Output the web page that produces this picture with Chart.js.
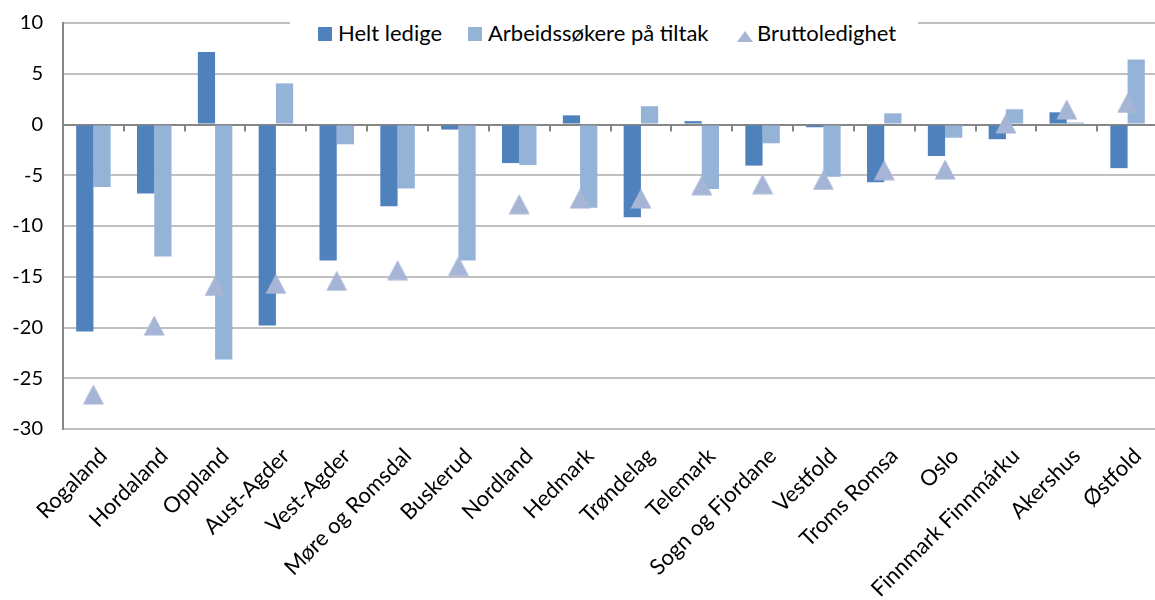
<!DOCTYPE html>
<html>
<head>
<meta charset="utf-8">
<script src="https://cdn.jsdelivr.net/npm/chart.js@4.4.0/dist/chart.umd.min.js"></script>
<style>
  html, body { margin: 0; padding: 0; background: #fff; overflow: hidden; }
  #wrap { position: absolute; left: 0; top: -9px; width: 1170px; height: 609px; }
  #legend {
    position: absolute; left: 290px; top: 23px; width: 628px; height: 38px;
    background: #fff; font-family: Lato, "Noto Sans", sans-serif; font-size: 22px; color: #000;
  }
  #legend span { position: absolute; top: 7px; line-height: 24px; white-space: nowrap; }
  .sq { position: absolute; top: 13px; width: 14px; height: 14px; }
  .tri { position: absolute; top: 17px; width: 0; height: 0;
    border-left: 8px solid transparent; border-right: 8px solid transparent; border-bottom: 11px solid #a6b5d6; }
</style>
</head>
<body>
<div id="wrap">
  <canvas id="canvas"></canvas>
  <div id="legend">
    <div class="sq" style="left:28px;background:#4f81bd"></div><span style="left:48px">Helt ledige</span>
    <div class="sq" style="left:178px;background:#95b3d7"></div><span style="left:198px">Arbeidssøkere på tiltak</span>
    <div class="tri" style="left:447px"></div><span style="left:467px">Bruttoledighet</span>
  </div>
</div>
<script>
var fylker = ["Rogaland", "Hordaland", "Oppland", "Aust-Agder", "Vest-Agder", "Møre og Romsdal",
  "Buskerud", "Nordland", "Hedmark", "Trøndelag", "Telemark", "Sogn og Fjordane", "Vestfold",
  "Troms Romsa", "Oslo", "Finnmark Finnmárku", "Akershus", "Østfold"];

var heltLedige = [-20.4, -6.8, 7.15, -19.8, -13.4, -8.05, -0.5, -3.8, 0.9, -9.15, 0.33, -4.05,
  -0.27, -5.7, -3.1, -1.45, 1.2, -4.3];
var paTiltak = [-6.15, -13.0, -23.15, 4.05, -1.95, -6.3, -13.4, -4.0, -8.2, 1.8, -6.35, -1.85,
  -5.15, 1.1, -1.3, 1.5, 0.2, 6.4];
var bruttoledighet = [-26.6, -19.8, -15.9, -15.7, -15.4, -14.35, -13.95, -7.85, -7.3, -7.3, -5.98, -5.87,
  -5.45, -4.5, -4.43, 0.1, 1.48, 2.13];

var yTicks = [10, 5, 0, -5, -10, -15, -20, -25, -30];

var gridGrey = "#c0c0c0";
var axisGrey = "#868686";

// triangle marker like the office one: 20 wide, 20 high, centred on the value
function makeTriangle(color) {
  var c = document.createElement("canvas");
  c.width = 22; c.height = 21;
  var g = c.getContext("2d");
  g.fillStyle = color;
  g.beginPath();
  g.moveTo(11, 0.5);
  g.lineTo(21.5, 20.5);
  g.lineTo(0.5, 20.5);
  g.closePath();
  g.fill();
  return c;
}
var triangle = makeTriangle("#a6b5d6");

// tick marks hanging from the zero line, between categories
var zeroTicks = {
  id: "zeroTicks",
  beforeDatasetsDraw: function(chart) {
    var ctx = chart.ctx;
    var x = chart.scales.x, y = chart.scales.y;
    var y0 = y.getPixelForValue(0);
    var half = (x.getPixelForValue(1) - x.getPixelForValue(0)) / 2;
    ctx.save();
    ctx.strokeStyle = axisGrey;
    ctx.lineWidth = 2;
    for (var i = 1; i < fylker.length; i++) {
      var px = Math.round(x.getPixelForValue(i) - half);
      ctx.beginPath();
      ctx.moveTo(px, y0);
      ctx.lineTo(px, y0 + 7);
      ctx.stroke();
    }
    ctx.restore();
  }
};

new Chart(document.getElementById("canvas").getContext("2d"), {
  type: "bar",
  data: {
    labels: fylker,
    datasets: [{
      type: "line",
      label: "Bruttoledighet",
      data: bruttoledighet,
      showLine: false,
      pointStyle: triangle,
      pointRadius: 11,
      order: 0
    }, {
      label: "Helt ledige",
      data: heltLedige,
      backgroundColor: "#4f81bd",
      categoryPercentage: 0.567,
      barPercentage: 1.0,
      order: 1
    }, {
      label: "Arbeidssøkere på tiltak",
      data: paTiltak,
      backgroundColor: "#95b3d7",
      categoryPercentage: 0.567,
      barPercentage: 1.0,
      order: 1
    }]
  },
  options: {
    responsive: true,
    maintainAspectRatio: false,
    animation: false,
    layout: { padding: { top: 14, right: 4, left: 0, bottom: 0 } },
    plugins: {
      legend: { display: false },
      tooltip: { enabled: false }
    },
    scales: {
      x: {
        offset: true,
        grid: { display: false },
        border: { display: false },
        ticks: {
          autoSkip: false,
          minRotation: 45,
          maxRotation: 45,
          padding: 6,
          labelOffset: 10,
          color: "#000",
          font: { family: "Lato", size: 22 }
        },
        afterFit: function(scale) { scale.height = 171; }
      },
      y: {
        min: -30,
        max: 10,
        afterBuildTicks: function(scale) {
          scale.ticks = yTicks.map(function(v) { return { value: v }; });
        },
        grid: {
          drawTicks: false,
          lineWidth: 2,
          color: function(c) { return c.tick && c.tick.value === 0 ? axisGrey : gridGrey; }
        },
        border: { display: true, color: axisGrey, width: 2 },
        ticks: {
          padding: 20,
          color: "#000",
          font: { family: "Lato", size: 20 }
        },
        afterFit: function(scale) { scale.width = 63; }
      }
    }
  },
  plugins: [zeroTicks]
});
</script>
</body>
</html>
